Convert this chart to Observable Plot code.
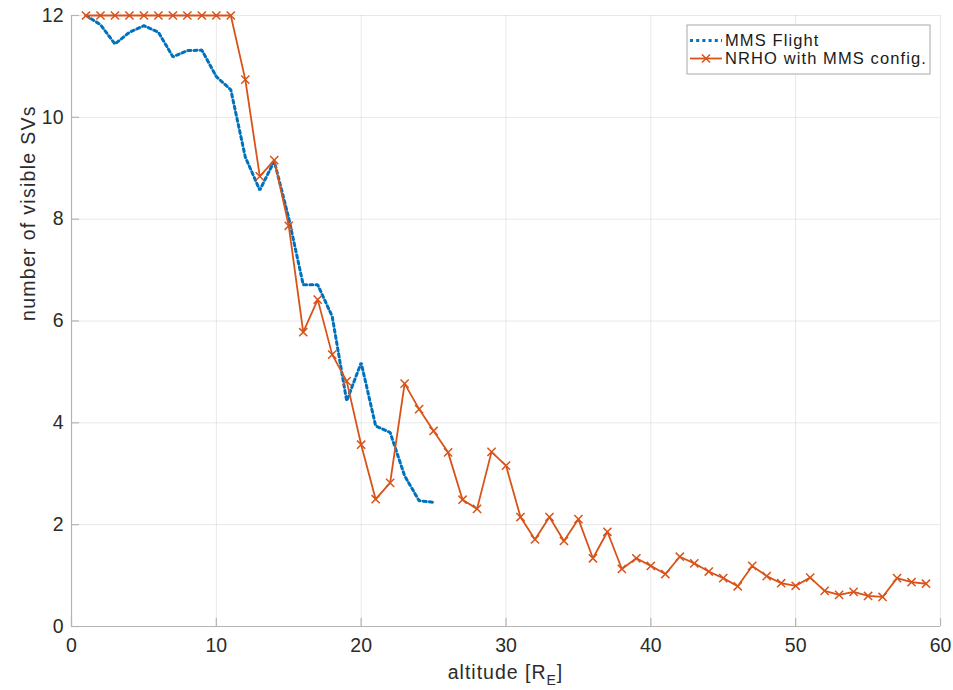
<!DOCTYPE html>
<html>
<head>
<meta charset="utf-8">
<script src="https://cdn.jsdelivr.net/npm/d3@7"></script>
<script src="https://cdn.jsdelivr.net/npm/@observablehq/plot@0.6"></script>
<style>
  body { margin: 0; background: #fff; }
  svg { display: block; }
</style>
</head>
<body>
<div id="chart"></div>
<script>
// ---- data ----
const altitudeFlight = [1, 2, 3, 4, 5, 6, 7, 8, 9, 10, 11, 12, 13, 14, 15, 16, 17, 18, 19, 20, 21, 22, 23, 24, 25];
const svsFlight = [12, 11.82, 11.44, 11.67, 11.8, 11.67, 11.19, 11.31, 11.32, 10.8, 10.54, 9.22, 8.57, 9.14, 8.02, 6.71, 6.71, 6.09, 4.43, 5.18, 3.94, 3.81, 2.96, 2.47, 2.44];

const altitudeNrho = [1, 2, 3, 4, 5, 6, 7, 8, 9, 10, 11, 12, 13, 14, 15, 16, 17, 18, 19, 20,
  21, 22, 23, 24, 25, 26, 27, 28, 29, 30, 31, 32, 33, 34, 35, 36, 37, 38, 39, 40,
  41, 42, 43, 44, 45, 46, 47, 48, 49, 50, 51, 52, 53, 54, 55, 56, 57, 58, 59];
const svsNrho = [12, 12, 12, 12, 12, 12, 12, 12, 12, 12, 12, 10.74, 8.84, 9.16, 7.87, 5.78, 6.42, 5.34, 4.82, 3.57,
  2.5, 2.82, 4.77, 4.27, 3.84, 3.42, 2.49, 2.31, 3.43, 3.16, 2.15, 1.71, 2.15, 1.68, 2.11, 1.34, 1.86, 1.13, 1.34, 1.19,
  1.03, 1.37, 1.24, 1.08, 0.95, 0.79, 1.19, 0.99, 0.85, 0.8, 0.96, 0.7, 0.62, 0.68, 0.6, 0.58, 0.95, 0.87, 0.84];

const xTicks = [0, 10, 20, 30, 40, 50, 60];
const yTicks = [0, 2, 4, 6, 8, 10, 12];
const seriesNames = ["MMS Flight", "NRHO with MMS config."];
const xLabelMain = "altitude [R";
const xLabelSub = "E";
const xLabelEnd = "]";
const yLabel = "number of visible SVs";

// ---- styling ----
const W = 953, H = 690;
const M = {top: 15, right: 13, bottom: 64, left: 71};
const plotW = W - M.left - M.right;
const plotH = H - M.top - M.bottom;
const blue = "#0072BD", orange = "#D95319";
const axisColor = "#b4b4b4";
const textColor = "#2b2b2b";
const font = "'Liberation Sans', Arial, Helvetica, sans-serif";
const fmt = d => String(d);
const blueDash = "3,3.2";

const flight = altitudeFlight.map((a, i) => ({alt: a, svs: svsFlight[i]}));
const nrho = altitudeNrho.map((a, i) => ({alt: a, svs: svsNrho[i]}));

const chart = Plot.plot({
  width: W,
  height: H,
  marginTop: M.top,
  marginRight: M.right,
  marginBottom: M.bottom,
  marginLeft: M.left,
  style: {fontFamily: font, fontSize: "19.5px", color: textColor, background: "#fff"},
  x: {domain: [0, 60]},
  y: {domain: [0, 12]},
  marks: [
    Plot.gridX(xTicks, {stroke: "#000", strokeOpacity: 0.09, strokeWidth: 1}),
    Plot.gridY(yTicks, {stroke: "#000", strokeOpacity: 0.09, strokeWidth: 1}),
    Plot.ruleX([xTicks[0]], {stroke: axisColor, strokeWidth: 1.2}),
    Plot.ruleY([yTicks[0]], {stroke: axisColor, strokeWidth: 1.2}),
    // inward tick marks
    Plot.ruleX(xTicks, {stroke: axisColor, strokeWidth: 1.2, insetTop: plotH - 8}),
    Plot.ruleY(yTicks, {stroke: axisColor, strokeWidth: 1.2, insetRight: plotW - 8}),
    Plot.axisX(xTicks, {tickSize: 0, tickPadding: 12, label: null, fill: textColor, tickFormat: fmt}),
    Plot.axisY(yTicks, {tickSize: 0, tickPadding: 8, label: null, fill: textColor, tickFormat: fmt}),
    Plot.text([yLabel], {frameAnchor: "left", dx: -43, rotate: -90, text: d => d,
      fill: textColor, fontSize: 19.5}),
    Plot.line(flight, {x: "alt", y: "svs", stroke: blue, strokeWidth: 3,
      strokeDasharray: blueDash, strokeLinejoin: "miter"}),
    Plot.line(nrho, {x: "alt", y: "svs", stroke: orange, strokeWidth: 1.8}),
    Plot.dot(nrho, {x: "alt", y: "svs", symbol: "times", r: 3.8, stroke: orange, strokeWidth: 1.5})
  ]
});

document.getElementById("chart").appendChild(chart);

const svg = d3.select(chart);
svg.selectAll("text").filter(function() { return this.textContent === yLabel; })
  .style("letter-spacing", "1.3px");

// x axis label with subscript
const xs = chart.scale("x");
const cx = (xs.range[0] + xs.range[1]) / 2;
const xl = svg.append("text")
  .attr("x", cx).attr("y", 679)
  .attr("text-anchor", "middle")
  .attr("fill", textColor)
  .style("font-family", font)
  .style("font-size", "19.5px")
  .style("letter-spacing", "1px");
xl.append("tspan").text(xLabelMain);
xl.append("tspan").attr("dy", 6).style("font-size", "14px").text(xLabelSub);
xl.append("tspan").attr("dy", -6).text(xLabelEnd);

// legend
const lg = svg.append("g").attr("class", "legend").attr("text-anchor", "start");
const lx = 687, ly = 25, lw = 243, lh = 49;
lg.append("rect").attr("x", lx).attr("y", ly).attr("width", lw).attr("height", lh)
  .attr("fill", "#fff").attr("stroke", "#a8a8a8").attr("stroke-width", 1);
const rowsY = [40.5, 58.5];
const styles = [
  {stroke: blue, width: 3, dash: blueDash, marker: false},
  {stroke: orange, width: 1.8, dash: null, marker: true}
];
seriesNames.forEach((name, i) => {
  const s = styles[i];
  const ln = lg.append("line").attr("x1", lx + 3).attr("x2", lx + 35)
    .attr("y1", rowsY[i]).attr("y2", rowsY[i])
    .attr("stroke", s.stroke).attr("stroke-width", s.width);
  if (s.dash) ln.attr("stroke-dasharray", s.dash);
  if (s.marker) {
    lg.append("path").attr("d", d3.symbol(d3.symbolTimes, 45)())
      .attr("transform", `translate(${lx + 19},${rowsY[i]})`)
      .attr("fill", "none").attr("stroke", s.stroke).attr("stroke-width", 1.5);
  }
  lg.append("text").attr("x", lx + 38).attr("y", rowsY[i])
    .attr("dy", "0.35em")
    .attr("text-anchor", "start")
    .attr("fill", "#1a1a1a")
    .style("font-family", font).style("font-size", "16.5px")
    .style("letter-spacing", "1.1px")
    .text(name);
});
</script>
</body>
</html>
